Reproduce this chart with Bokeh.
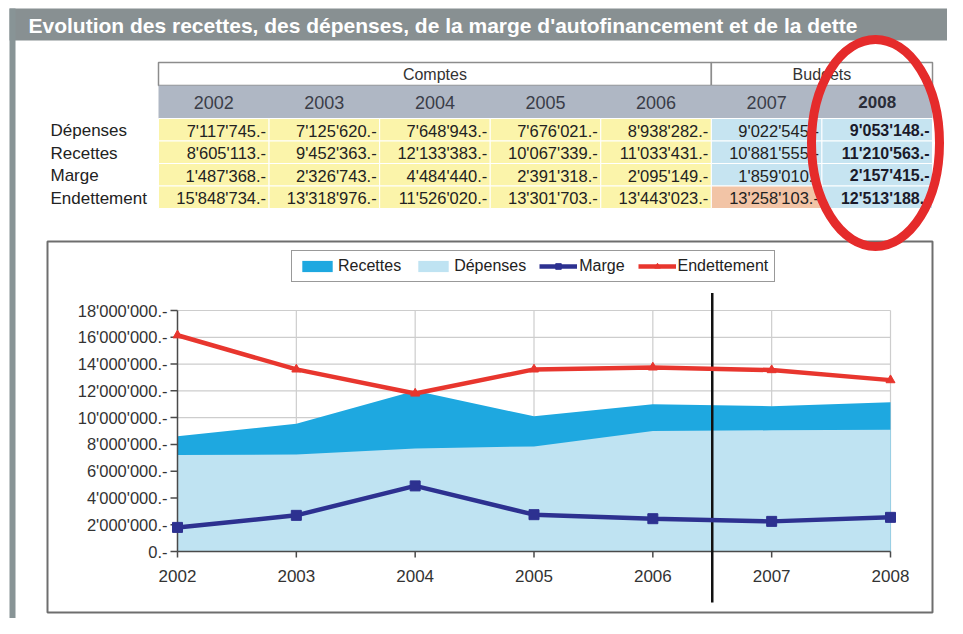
from bokeh.plotting import figure
from bokeh.models import Range1d, Legend, LegendItem
from bokeh.core.properties import value
from bokeh.embed import file_html
from bokeh.resources import INLINE

# ---------------- data ----------------
title_text = "Evolution des recettes, des dépenses, de la marge d'autofinancement et de la dette"
years = [2002, 2003, 2004, 2005, 2006, 2007, 2008]
year_labels = ["2002", "2003", "2004", "2005", "2006", "2007", "2008"]
group_labels = ["Comptes", "Budgets"]
group_span = [5, 2]
row_labels = ["Dépenses", "Recettes", "Marge", "Endettement"]

tab_depenses = [7117745, 7125620, 7648943, 7676021, 8938282, 9022545, 9053148]
tab_recettes = [8605113, 9452363, 12133383, 10067339, 11033431, 10881555, 11210563]
tab_marge = [1487368, 2326743, 4484440, 2391318, 2095149, 1859010, 2157415]
tab_endettement = [15848734, 13318976, 11526020, 13301703, 13443023, 13258103, 12513188]

# values
chart_recettes = [8.6e6, 9.55e6, 12.0e6, 10.1e6, 11.0e6, 10.85e6, 11.15e6]
chart_depenses = [7.2e6, 7.25e6, 7.7e6, 7.85e6, 9.0e6, 9.05e6, 9.1e6]
chart_marge = [1.8e6, 2.7e6, 4.9e6, 2.75e6, 2.45e6, 2.25e6, 2.55e6]
chart_endettement = [16.15e6, 13.6e6, 11.8e6, 13.6e6, 13.75e6, 13.55e6, 12.8e6]

y_ticks = [0, 2e6, 4e6, 6e6, 8e6, 10e6, 12e6, 14e6, 16e6, 18e6]
y_tick_labels = ["0.-", "2'000'000.-", "4'000'000.-", "6'000'000.-", "8'000'000.-",
                 "10'000'000.-", "12'000'000.-", "14'000'000.-", "16'000'000.-", "18'000'000.-"]
divider_year = 2006.5
divider_extent = [-3.8e6, 19.3e6]

# ---------------- layout / styles ----------------
W, H = 947, 618
FONT_NAME = "Liberation Sans"
FONT = value(FONT_NAME)
PX0, PX1 = 177, 890   # pixel x of 2002 and 2008
PY0, PY1 = 551, 310   # pixel y of 0 and 18M

kx = (PX1 - PX0) / (years[-1] - years[0])
x_start = years[0] - PX0 / kx
ky = (PY0 - PY1) / 18e6

p = figure(width=W, height=H, x_range=Range1d(0, W), y_range=Range1d(H, 0),
           output_backend="svg", toolbar_location=None,
           x_axis_type=None, y_axis_type=None, min_border=0,
           outline_line_color=None, background_fill_color="white",
           border_fill_color="white")
p.extra_x_ranges = {"yr": Range1d(x_start, x_start + W / kx)}
p.extra_y_ranges = {"val": Range1d(-(H - PY0) / ky, PY0 / ky)}
kw = dict(x_range_name="yr", y_range_name="val")

# title bar and left frame
p.quad(left=[9], right=[W], top=[8], bottom=[40], fill_color="#889092", line_color=None)
p.quad(left=[9], right=[15], top=[8], bottom=[H], fill_color="#889496", line_color=None)
p.text(x=[28], y=[25], text=[title_text], text_color="white", text_font=FONT,
       text_font_size="21px", text_font_style="bold", text_baseline="middle")

# ---------------- table ----------------
TL, TR = 158, 932
col_w = (TR - TL) / len(years)
HT, HB = 62, 85
YB = 118
row_h = 22.5

# group header
gl, gr, gx = [], [], []
c = 0
for s in group_span:
    gl.append(TL + c * col_w)
    gr.append(TL + (c + s) * col_w)
    gx.append(TL + (c + s / 2) * col_w)
    c += s
p.quad(left=gl, right=gr, top=[HT] * 2, bottom=[HB] * 2, fill_color="white",
       line_color="#8c8c8c", line_width=1.5)
p.text(x=gx, y=[(HT + HB) / 2] * 2, text=group_labels, text_align="center",
       text_baseline="middle", text_font=FONT, text_font_size="16px", text_color="#333333")

# year row
p.quad(left=[TL], right=[TR], top=[HB], bottom=[YB], fill_color="#afb7c4", line_color=None)
ycx = [TL + (i + 0.5) * col_w for i in range(len(years))]
p.text(x=ycx[:-1], y=[(HB + YB) / 2] * 6, text=year_labels[:-1], text_align="center",
       text_baseline="middle", text_font=FONT, text_font_size="18px", text_color="#3a3d48")
p.text(x=ycx[-1:], y=[(HB + YB) / 2], text=year_labels[-1:], text_align="center",
       text_baseline="middle", text_font=FONT, text_font_size="17px", text_color="#2a2d38",
       text_font_style="bold")

# data cells
table_rows = [tab_depenses, tab_recettes, tab_marge, tab_endettement]


def fmt(v):
    return f"{v:,}".replace(",", "'") + ".-"


cl, cr, ct, cb, cf = [], [], [], [], []
for r in range(len(table_rows)):
    for i in range(len(years)):
        cl.append(TL + i * col_w)
        cr.append(TL + (i + 1) * col_w)
        ct.append(YB + r * row_h)
        cb.append(YB + (r + 1) * row_h)
        if i < group_span[0]:
            cf.append("#fbf4aa")
        elif r == 3 and i == 5:
            cf.append("#f2c4a6")
        else:
            cf.append("#c6e4f1")
p.quad(left=cl, right=cr, top=ct, bottom=cb, fill_color=cf, line_color="white", line_width=1)

for r, vals in enumerate(table_rows):
    yc = YB + (r + 0.5) * row_h + 1
    p.text(x=[TL + (i + 1) * col_w - 3 for i in range(6)], y=[yc] * 6,
           text=[fmt(v) for v in vals[:6]], text_align="right", text_baseline="middle",
           text_font=FONT, text_font_size="16.5px", text_color="#222222")
    p.text(x=[TR - 3], y=[yc], text=[fmt(vals[6])], text_align="right",
           text_baseline="middle", text_font=FONT, text_font_size="16px",
           text_color="#1a1a2a", text_font_style="bold")
p.text(x=[50] * 4, y=[YB + (r + 0.5) * row_h + 1 for r in range(4)], text=row_labels,
       text_baseline="middle", text_font=FONT, text_font_size="17px", text_color="#222222")

# ---------------- chart ----------------
p.quad(left=[47], right=[932], top=[241], bottom=[612], fill_color="white",
       line_color="#6e6e6e", line_width=2)

# gridlines
p.segment(x0=[years[0]] * (len(y_ticks) - 1), x1=[years[-1]] * (len(y_ticks) - 1),
          y0=y_ticks[1:], y1=y_ticks[1:], line_color="#cdcdcd", line_width=1.2, **kw)
p.segment(x0=years[1:], x1=years[1:], y0=[0] * 6, y1=[y_ticks[-1]] * 6,
          line_color="#cdcdcd", line_width=1.2, **kw)

r_rec = p.varea(x=years, y1=[0] * 7, y2=chart_recettes, fill_color="#1ea8e0", **kw)
r_dep = p.varea(x=years, y1=[0] * 7, y2=chart_depenses, fill_color="#bfe3f2", **kw)

# axes
tick_x = 7 / kx
tick_y = 6 / ky
p.segment(x0=[years[0]], x1=[years[0]], y0=[0], y1=[y_ticks[-1]], line_color="#4a4a4a",
          line_width=1.5, **kw)
p.segment(x0=[years[0]], x1=[years[-1]], y0=[0], y1=[0], line_color="#4a4a4a",
          line_width=1.5, **kw)
p.segment(x0=[years[0] - tick_x] * len(y_ticks), x1=[years[0]] * len(y_ticks),
          y0=y_ticks, y1=y_ticks, line_color="#4a4a4a", line_width=1.5, **kw)
p.segment(x0=years, x1=years, y0=[0] * 7, y1=[-tick_y] * 7, line_color="#4a4a4a",
          line_width=1.5, **kw)

p.text(x=[years[0]] * len(y_ticks), y=y_ticks, text=y_tick_labels, text_align="right",
       text_baseline="middle", x_offset=-10, text_font=FONT, text_font_size="16.5px",
       text_color="#333333", **kw)
p.text(x=years, y=[0] * 7, text=year_labels, text_align="center", text_baseline="middle",
       y_offset=24, text_font=FONT, text_font_size="17px", text_color="#333333", **kw)

# comptes / budgets divider
p.segment(x0=[divider_year], x1=[divider_year], y0=[divider_extent[0]], y1=[divider_extent[1]],
          line_color="#111111", line_width=2.5, **kw)

r_mar_l = p.line(x=years, y=chart_marge, line_color="#2d3190", line_width=4.5, **kw)
r_mar_p = p.scatter(x=years, y=chart_marge, marker="square", size=10, fill_color="#2d3190",
                    line_color="#2d3190", **kw)
r_end_l = p.line(x=years, y=chart_endettement, line_color="#e8362e", line_width=4.5, **kw)
r_end_p = p.scatter(x=years, y=chart_endettement, marker="triangle", size=9,
                    fill_color="#e8362e", line_color="#e8362e", **kw)

legend = Legend(items=[LegendItem(label="Recettes", renderers=[r_rec]),
                       LegendItem(label="Dépenses", renderers=[r_dep]),
                       LegendItem(label="Marge", renderers=[r_mar_l, r_mar_p]),
                       LegendItem(label="Endettement", renderers=[r_end_l, r_end_p])],
                orientation="horizontal", location=(291, H - 282),
                glyph_width=38, glyph_height=14, label_height=16, label_standoff=2,
                spacing=13, padding=6, margin=0,
                label_text_font=FONT_NAME, label_text_font_size="16px",
                label_text_color="#222222",
                border_line_color="#333333", border_line_width=1.5,
                background_fill_color="white", background_fill_alpha=1)
p.add_layout(legend)

# red highlight ellipse
p.ellipse(x=[875], y=[142.5], width=[128], height=[207], fill_color=None,
          line_color="#e52b2b", line_width=9)

open("out.html", "w").write(file_html(p, INLINE))
